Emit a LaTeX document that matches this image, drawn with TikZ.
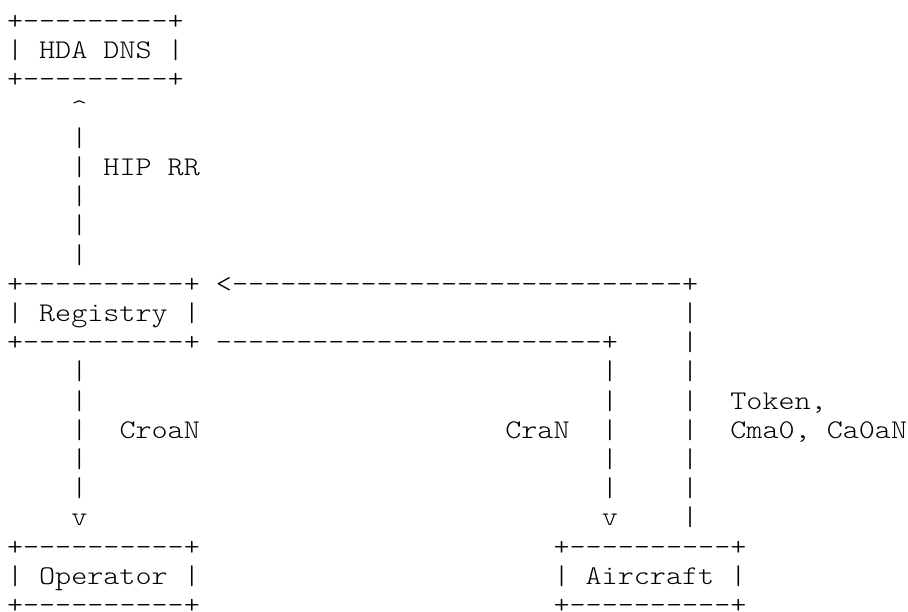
\documentclass[tikz,border=0pt]{standalone}
\usepackage{fontspec}
\newfontfamily\asciifont{Latin Modern Mono Light}[FakeStretch=1.134]
\newcommand\asciisize{\asciifont\fontsize{27}{29.2}\selectfont}
\newlength\colw
\tikzset{asc/.style={inner sep=0pt, outer sep=0pt, anchor=base west,
  font=\asciisize, text=black}}
% place a text segment at grid column #2, row #3
\newcommand\gridtxt[4]{\node[asc] (#1) at ({7pt+#2*\colw},{(582.5-29.2*#3)*1pt}) {#4};}
\begin{document}
\settowidth\colw{\asciisize M}
\begin{tikzpicture}[x=1pt,y=1pt]
\useasboundingbox (0,0) rectangle (908,612);
% HDA DNS box
\gridtxt{hdaT}{0}{0}{+---------+}
\gridtxt{hdaM}{0}{1}{| HDA DNS |}
\gridtxt{hdaB}{0}{2}{+---------+}
% Registry -> HDA DNS
\gridtxt{upHead}{4}{3}{\textasciicircum}
\foreach \r in {4,...,8} {\gridtxt{upBar\r}{4}{\r}{|}}
\gridtxt{hipRR}{6}{5}{HIP RR}
% Registry box
\gridtxt{regT}{0}{9}{+----------+}
\gridtxt{regM}{0}{10}{| Registry |}
\gridtxt{regB}{0}{11}{+----------+}
% Aircraft -> Registry
\gridtxt{tokenTop}{13}{9}{<----------------------------+}
\foreach \r in {10,...,17} {\gridtxt{tokenBar\r}{42}{\r}{|}}
\gridtxt{token1}{45}{13}{Token,}
\gridtxt{token2}{45}{14}{Cma0, Ca0aN}
% Registry -> Aircraft
\gridtxt{craTop}{13}{11}{------------------------+}
\foreach \r in {12,...,16} {\gridtxt{craBar\r}{37}{\r}{|}}
\gridtxt{craN}{31}{14}{CraN}
\gridtxt{craHead}{37}{17}{v}
% Registry -> Operator
\foreach \r in {12,...,16} {\gridtxt{croaBar\r}{4}{\r}{|}}
\gridtxt{croaN}{7}{14}{CroaN}
\gridtxt{croaHead}{4}{17}{v}
% Operator box
\gridtxt{opT}{0}{18}{+----------+}
\gridtxt{opM}{0}{19}{| Operator |}
\gridtxt{opB}{0}{20}{+----------+}
% Aircraft box
\gridtxt{acT}{34}{18}{+----------+}
\gridtxt{acM}{34}{19}{| Aircraft |}
\gridtxt{acB}{34}{20}{+----------+}
\end{tikzpicture}
\end{document}
